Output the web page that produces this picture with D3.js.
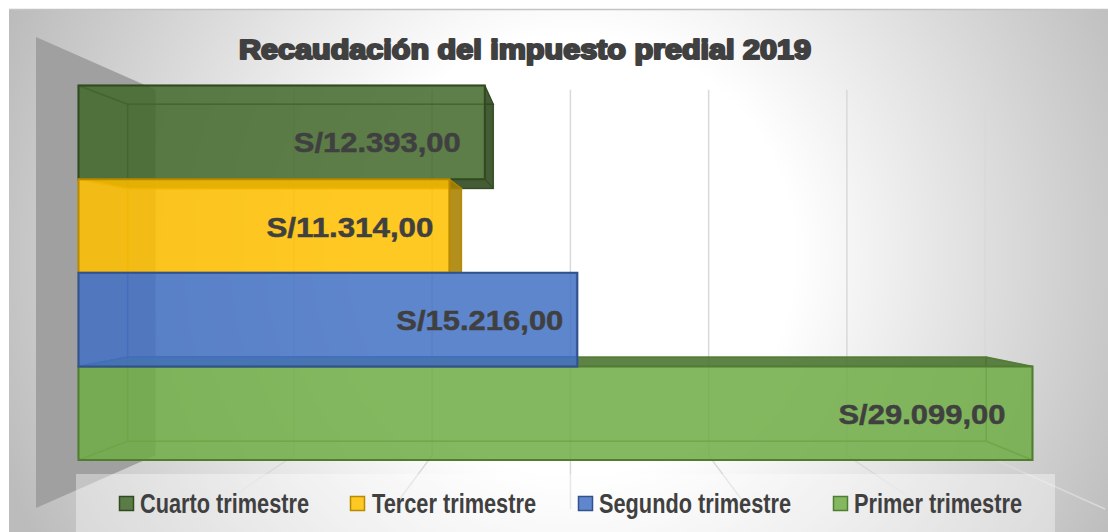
<!DOCTYPE html>
<html><head><meta charset="utf-8">
<script src="https://cdn.jsdelivr.net/npm/d3@7"></script>
<style>html,body{margin:0;padding:0;background:#fff}svg{display:block}text{font-family:"Liberation Sans",Arial,sans-serif}</style>
</head><body><div id="chart"></div>
<script>
const titleText = "Recaudación del impuesto predial 2019";
const categories = ["Cuarto trimestre","Tercer trimestre","Segundo trimestre","Primer trimestre"];
const values = [12393,11314,15216,29099];
const colors = ["#43682B","#FFC000","#4472C4","#70AD47"];
const axisTicks = [0,5000,10000,15000,20000,25000,30000];

const W=1108,H=532;
const svg=d3.select("#chart").append("svg").attr("width",W).attr("height",H);
const defs=svg.append("defs");
const rg=defs.append("radialGradient").attr("id","bg").attr("gradientUnits","userSpaceOnUse")
  .attr("cx",575).attr("cy",255).attr("r",610);
[[0,"#ffffff"],[0.36,"#ffffff"],[1,"#bcbcbc"]].forEach(s=>rg.append("stop").attr("offset",s[0]).attr("stop-color",s[1]));
svg.append("rect").attr("x",9).attr("y",9).attr("width",W-9).attr("height",H-9).attr("fill","url(#bg)");
svg.append("line").attr("x1",9).attr("x2",W).attr("y1",9.5).attr("y2",9.5).attr("stroke","#c4c4c4").attr("stroke-width",1.5);

// perspective helpers
const vx=570, vy=273, barDepth=0.9, wallDepth=0.776;
const px=(x,k)=>vx+(x-vx)*k, py=(y,k)=>vy+(y-vy)*k;
const xFloor=d3.scaleLinear().domain([0,30000]).range([36,1105]);
const xFront=d3.scaleLinear().domain([0,30000]).range([78.5,1062]);
const yBand=d3.scaleBand().domain(categories).range([85.5,460]).padding(0);
const yWall=d3.scaleLinear().domain([0,1]).range([37,508]);
const poly=pts=>pts.map(p=>p.join(",")).join(" ");

// gridlines on the back wall and floor
const grid=svg.append("g").attr("stroke","#d9d9d9").attr("stroke-width",1.5).attr("fill","none");
const wallTop=py(yWall(0),wallDepth), wallBot=py(yWall(1),wallDepth);
axisTicks.slice(1).forEach(t=>{
  const xb=px(xFloor(t),wallDepth);
  grid.append("line").attr("x1",xb).attr("x2",xb).attr("y1",wallTop).attr("y2",wallBot);
  grid.append("line").attr("x1",xb).attr("x2",xFloor(t)).attr("y1",wallBot).attr("y2",yWall(1)+1);
});

// left wall
const wx=xFloor(0), wxb=px(wx,wallDepth);
svg.append("polygon").attr("fill","#a0a0a0")
  .attr("points",poly([[wx,yWall(0)],[wxb,wallTop],[wxb,wallBot],[wx,yWall(1)]]));

// bars
function drawBar(i){
  const g=svg.append("g"), c=colors[i], cat=categories[i];
  const x0=xFront(0), x1=xFront(values[i]), y0=yBand(cat), y1=y0+yBand.bandwidth();
  const k=barDepth;
  const A=[x0,y0],B=[x1,y0],C=[x1,y1],D=[x0,y1];
  const a=[px(x0,k),py(y0,k)],b=[px(x1,k),py(y0,k)],c2=[px(x1,k),py(y1,k)],d=[px(x0,k),py(y1,k)];
  const shade=d3.rgb(c); const dark=d3.rgb(shade.r*.66,shade.g*.66,shade.b*.66).formatHex();
  const edge=d3.rgb(shade.r*.72,shade.g*.72,shade.b*.72).formatHex();
  const faces=[
    {p:[a,b,B,A],facing:y0>vy},
    {p:[d,c2,C,D],facing:y1<vy-1},
    {p:[b,c2,C,B],facing:x1<vx},
    {p:[a,d,D,A],facing:x0>vx}];
  g.append("polygon").attr("points",poly([a,b,c2,d])).attr("fill",c).attr("fill-opacity",.08)
    .attr("stroke",edge).attr("stroke-opacity",.6).attr("stroke-width",1.5);
  faces.filter(f=>!f.facing).forEach(f=>{
    g.append("polygon").attr("points",poly(f.p)).attr("fill",c).attr("fill-opacity",.06)
     .attr("stroke",edge).attr("stroke-opacity",.6).attr("stroke-width",1.5);
  });
  faces.filter(f=>f.facing).forEach(f=>{
    g.append("polygon").attr("points",poly(f.p)).attr("fill",dark).attr("fill-opacity",.88)
     .attr("stroke",edge).attr("stroke-width",1);
  });
  g.append("polygon").attr("points",poly([A,B,C,D])).attr("fill",c).attr("fill-opacity",.85)
    .attr("stroke",edge).attr("stroke-width",2);
}
[0,3,1,2].forEach(drawBar);

// legend band (translucent, over wall and floor lines)
svg.append("rect").attr("x",76).attr("y",474).attr("width",979).attr("height",58).attr("fill","#fff").attr("fill-opacity",.38);

// data labels
const es=d3.formatLocale({decimal:",",thousands:".",grouping:[3],currency:["S/",""]});
const fmt=es.format("$,.2f");
const labelInset=[24,16,14,27];
const labelBase=[152,237,330,424];
categories.forEach((cat,i)=>{
  const w=167;
  svg.append("text").attr("x",xFront(values[i])-labelInset[i]-w).attr("y",labelBase[i])
    .attr("font-size",28).attr("font-weight",700).attr("fill","#404040")
    .attr("stroke","#404040").attr("stroke-width",.5)
    .attr("textLength",w).attr("lengthAdjust","spacingAndGlyphs").text(fmt(values[i]));
});

// title
svg.append("text").attr("x",239).attr("y",58.5).attr("font-size",27).attr("font-weight",700)
  .attr("fill","#404040").attr("stroke","#404040").attr("stroke-width",2.2).attr("stroke-linejoin","round")
  .attr("textLength",572).attr("lengthAdjust","spacingAndGlyphs").text(titleText);

// legend
const swatchX=[119,350,578,833], textX=[140,372,599,854], textW=[169,164,192,168];
categories.forEach((cat,i)=>{
  const c=d3.rgb(colors[i]);
  svg.append("rect").attr("x",swatchX[i]+.5).attr("y",496.5).attr("width",14).attr("height",14)
    .attr("fill",colors[i]).attr("fill-opacity",.85)
    .attr("stroke",d3.rgb(c.r*.72,c.g*.72,c.b*.72).formatHex()).attr("stroke-width",1.5);
  svg.append("text").attr("x",textX[i]).attr("y",512.5).attr("font-size",27).attr("font-weight",700)
    .attr("fill","#404040").attr("textLength",textW[i]).attr("lengthAdjust","spacingAndGlyphs").text(cat);
});
</script></body></html>
